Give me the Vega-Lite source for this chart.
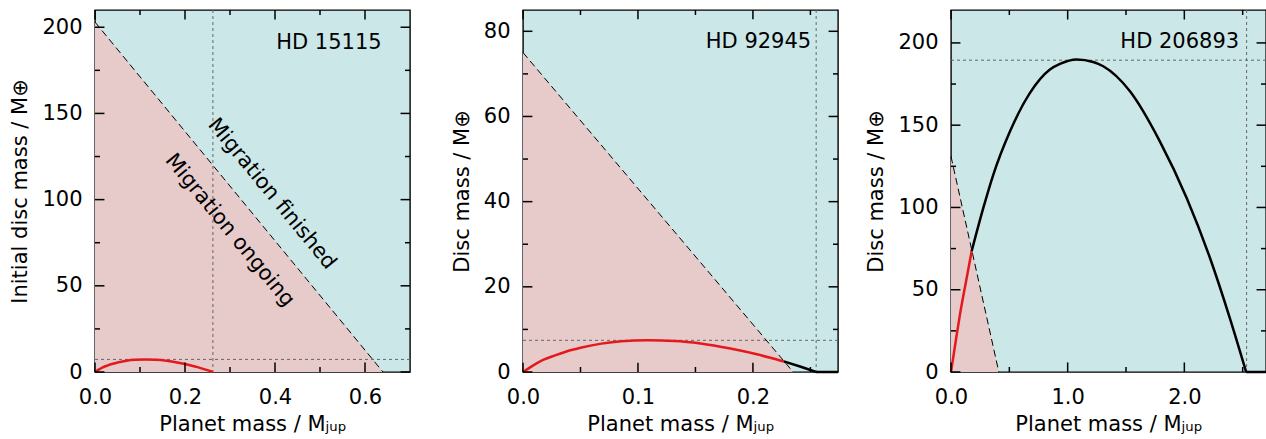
{
  "$schema": "https://vega.github.io/schema/vega-lite/v6.json",
  "padding": {"left": 9, "top": 8, "right": 0, "bottom": 0},
  "spacing": 113,
  "bounds": "flush",
  "config": {
    "font": "DejaVu Sans",
    "view": {"stroke": "black", "strokeWidth": 1.4, "fill": "#cce7e7"},
    "axis": {
      "domain": false, "grid": false, "ticks": false,
      "labelColor": "black", "titleColor": "black", "labelFontSize": 21, "titleFontSize": 21,
      "titleFontWeight": "normal", "labelFont": "DejaVu Sans", "titleFont": "DejaVu Sans",
      "labelFlush": false, "labelOverlap": false
    },
    "text": {"font": "DejaVu Sans", "fontSize": 21, "color": "black"}
  },
  "datasets": {
    "p1xM": [{"v": 0}, {"v": 0.2}, {"v": 0.4}, {"v": 0.6}],
    "p1xm": [{"v": 0.1}, {"v": 0.3}, {"v": 0.5}],
    "p1yM": [{"v": 0}, {"v": 50}, {"v": 100}, {"v": 150}, {"v": 200}],
    "p1ym": [{"v": 25}, {"v": 75}, {"v": 125}, {"v": 175}],
    "p2xM": [{"v": 0}, {"v": 0.1}, {"v": 0.2}],
    "p2xm": [{"v": 0.05}, {"v": 0.15}, {"v": 0.25}],
    "p2yM": [{"v": 0}, {"v": 20}, {"v": 40}, {"v": 60}, {"v": 80}],
    "p2ym": [{"v": 10}, {"v": 30}, {"v": 50}, {"v": 70}],
    "p3xM": [{"v": 0}, {"v": 1}, {"v": 2}],
    "p3xm": [{"v": 0.5}, {"v": 1.5}, {"v": 2.5}],
    "p3yM": [{"v": 0}, {"v": 50}, {"v": 100}, {"v": 150}, {"v": 200}],
    "p3ym": [{"v": 25}, {"v": 75}, {"v": 125}, {"v": 175}]
  },
  "hconcat": [
    {
      "width": 315, "height": 362,
      "layer": [
        {
          "data": {"values": [{"m": 0, "d": 203}, {"m": 0.64, "d": 0}]},
          "mark": {"type": "area", "color": "#e7cbcb"},
          "encoding": {
            "x": {"field": "m", "type": "quantitative", "scale": {"domain": [0, 0.7], "nice": false},
              "axis": {"orient": "bottom", "values": [0, 0.2, 0.4, 0.6], "format": ".1f", "labelPadding": 14, "title": "Planet mass / Mⱼᵤₚ", "titlePadding": 6}},
            "y": {"field": "d", "type": "quantitative", "scale": {"domain": [0, 210], "nice": false},
              "axis": {"orient": "left", "values": [0, 50, 100, 150, 200], "labelPadding": 13, "title": "Initial disc mass / M⊕", "titlePadding": 11}}
          }
        },
        {
          "data": {"values": [{"m": 0.262}]},
          "mark": {"type": "rule", "color": "#666666", "strokeDash": [3, 3], "strokeWidth": 1},
          "encoding": {"x": {"field": "m", "type": "quantitative"}}
        },
        {
          "data": {"values": [{"d": 7.3}]},
          "mark": {"type": "rule", "color": "#666666", "strokeDash": [3, 3], "strokeWidth": 1},
          "encoding": {"y": {"field": "d", "type": "quantitative"}}
        },
        {
          "data": {"values": [{"m": 0, "d": 203}, {"m": 0.64, "d": 0}]},
          "mark": {"type": "line", "color": "black", "strokeWidth": 1, "strokeDash": [7, 4]},
          "encoding": {"x": {"field": "m", "type": "quantitative"}, "y": {"field": "d", "type": "quantitative"}}
        },
        {
          "data": {"values": [
            {"m": 0, "d": 0}, {"m": 0.0092, "d": 1.52}, {"m": 0.0183, "d": 2.83}, {"m": 0.0287, "d": 3.84},
            {"m": 0.0376, "d": 4.62}, {"m": 0.0524, "d": 5.64}, {"m": 0.0701, "d": 6.53}, {"m": 0.0878, "d": 7.08},
            {"m": 0.1115, "d": 7.3}, {"m": 0.1352, "d": 7.15}, {"m": 0.1588, "d": 6.57}, {"m": 0.1854, "d": 5.4},
            {"m": 0.2091, "d": 4.07}, {"m": 0.2298, "d": 2.67}, {"m": 0.2476, "d": 1.26}, {"m": 0.262, "d": 0}
          ]},
          "mark": {"type": "line", "color": "#e4191c", "strokeWidth": 2.5, "interpolate": "monotone"},
          "encoding": {"x": {"field": "m", "type": "quantitative"}, "y": {"field": "d", "type": "quantitative"}}
        },
        {
          "data": {"values": [{"m": 0.637, "d": 187.1, "label": "HD 15115"}]},
          "mark": {"type": "text", "align": "right", "baseline": "alphabetic"},
          "encoding": {"x": {"field": "m", "type": "quantitative"}, "y": {"field": "d", "type": "quantitative"}, "text": {"field": "label"}}
        },
        {
          "data": {"values": [
            {"m": 0.393, "d": 103.3, "label": "Migration finished"},
            {"m": 0.299, "d": 82.2, "label": "Migration ongoing"}
          ]},
          "mark": {"type": "text", "align": "center", "baseline": "middle", "angle": 50.6},
          "encoding": {"x": {"field": "m", "type": "quantitative"}, "y": {"field": "d", "type": "quantitative"}, "text": {"field": "label"}}
        },
        {"data": {"name": "p1xM"}, "mark": {"type": "rule", "color": "#000000", "strokeWidth": 1.5}, "encoding": {"x": {"field": "v", "type": "quantitative"}, "y": {"datum": 0, "type": "quantitative"}, "y2": {"datum": 5.5}}},
        {"data": {"name": "p1xM"}, "mark": {"type": "rule", "color": "#000000", "strokeWidth": 1.5}, "encoding": {"x": {"field": "v", "type": "quantitative"}, "y": {"datum": 210, "type": "quantitative"}, "y2": {"datum": 204.5}}},
        {"data": {"name": "p1xm"}, "mark": {"type": "rule", "color": "#000000", "strokeWidth": 1.5}, "encoding": {"x": {"field": "v", "type": "quantitative"}, "y": {"datum": 0, "type": "quantitative"}, "y2": {"datum": 2.9}}},
        {"data": {"name": "p1xm"}, "mark": {"type": "rule", "color": "#000000", "strokeWidth": 1.5}, "encoding": {"x": {"field": "v", "type": "quantitative"}, "y": {"datum": 210, "type": "quantitative"}, "y2": {"datum": 207.1}}},
        {"data": {"name": "p1yM"}, "mark": {"type": "rule", "color": "#000000", "strokeWidth": 1.5}, "encoding": {"y": {"field": "v", "type": "quantitative"}, "x": {"datum": 0, "type": "quantitative"}, "x2": {"datum": 0.021}}},
        {"data": {"name": "p1yM"}, "mark": {"type": "rule", "color": "#000000", "strokeWidth": 1.5}, "encoding": {"y": {"field": "v", "type": "quantitative"}, "x": {"datum": 0.7, "type": "quantitative"}, "x2": {"datum": 0.679}}},
        {"data": {"name": "p1ym"}, "mark": {"type": "rule", "color": "#000000", "strokeWidth": 1.5}, "encoding": {"y": {"field": "v", "type": "quantitative"}, "x": {"datum": 0, "type": "quantitative"}, "x2": {"datum": 0.0111}}},
        {"data": {"name": "p1ym"}, "mark": {"type": "rule", "color": "#000000", "strokeWidth": 1.5}, "encoding": {"y": {"field": "v", "type": "quantitative"}, "x": {"datum": 0.7, "type": "quantitative"}, "x2": {"datum": 0.6889}}}
      ]
    },
    {
      "width": 315, "height": 362,
      "layer": [
        {
          "data": {"values": [{"m": 0, "d": 75}, {"m": 0.235, "d": 0}]},
          "mark": {"type": "area", "color": "#e7cbcb"},
          "encoding": {
            "x": {"field": "m", "type": "quantitative", "scale": {"domain": [0, 0.274], "nice": false},
              "axis": {"orient": "bottom", "values": [0, 0.1, 0.2], "format": ".1f", "labelPadding": 14, "title": "Planet mass / Mⱼᵤₚ", "titlePadding": 6}},
            "y": {"field": "d", "type": "quantitative", "scale": {"domain": [0, 85], "nice": false},
              "axis": {"orient": "left", "values": [0, 20, 40, 60, 80], "labelPadding": 13, "title": "Disc mass / M⊕", "titlePadding": 11}}
          }
        },
        {
          "data": {"values": [{"m": 0.255}]},
          "mark": {"type": "rule", "color": "#666666", "strokeDash": [3, 3], "strokeWidth": 1},
          "encoding": {"x": {"field": "m", "type": "quantitative"}}
        },
        {
          "data": {"values": [{"d": 7.44}]},
          "mark": {"type": "rule", "color": "#666666", "strokeDash": [3, 3], "strokeWidth": 1},
          "encoding": {"y": {"field": "d", "type": "quantitative"}}
        },
        {
          "data": {"values": [{"m": 0, "d": 75}, {"m": 0.235, "d": 0}]},
          "mark": {"type": "line", "color": "black", "strokeWidth": 1, "strokeDash": [7, 4]},
          "encoding": {"x": {"field": "m", "type": "quantitative"}, "y": {"field": "d", "type": "quantitative"}}
        },
        {
          "data": {"values": [
            {"m": 0, "d": 0}, {"m": 0.0089, "d": 1.55}, {"m": 0.0179, "d": 2.88}, {"m": 0.0279, "d": 3.91},
            {"m": 0.0366, "d": 4.71}, {"m": 0.051, "d": 5.74}, {"m": 0.0682, "d": 6.66}, {"m": 0.0854, "d": 7.22},
            {"m": 0.1086, "d": 7.44}, {"m": 0.1316, "d": 7.29}, {"m": 0.1545, "d": 6.7}, {"m": 0.1804, "d": 5.51},
            {"m": 0.2035, "d": 4.15}, {"m": 0.2236, "d": 2.72}, {"m": 0.2268, "d": 2.5}
          ]},
          "mark": {"type": "line", "color": "#e4191c", "strokeWidth": 2.5, "interpolate": "monotone"},
          "encoding": {"x": {"field": "m", "type": "quantitative"}, "y": {"field": "d", "type": "quantitative"}}
        },
        {
          "data": {"values": [{"m": 0.2268, "d": 2.5}, {"m": 0.241, "d": 1.29}, {"m": 0.255, "d": 0}, {"m": 0.274, "d": 0}]},
          "mark": {"type": "line", "color": "black", "strokeWidth": 2.5},
          "encoding": {"x": {"field": "m", "type": "quantitative"}, "y": {"field": "d", "type": "quantitative"}}
        },
        {
          "data": {"values": [{"m": 0.2507, "d": 76.1, "label": "HD 92945"}]},
          "mark": {"type": "text", "align": "right", "baseline": "alphabetic"},
          "encoding": {"x": {"field": "m", "type": "quantitative"}, "y": {"field": "d", "type": "quantitative"}, "text": {"field": "label"}}
        },
        {"data": {"name": "p2xM"}, "mark": {"type": "rule", "color": "#000000", "strokeWidth": 1.5}, "encoding": {"x": {"field": "v", "type": "quantitative"}, "y": {"datum": 0, "type": "quantitative"}, "y2": {"datum": 2.2}}},
        {"data": {"name": "p2xM"}, "mark": {"type": "rule", "color": "#000000", "strokeWidth": 1.5}, "encoding": {"x": {"field": "v", "type": "quantitative"}, "y": {"datum": 85, "type": "quantitative"}, "y2": {"datum": 82.8}}},
        {"data": {"name": "p2xm"}, "mark": {"type": "rule", "color": "#000000", "strokeWidth": 1.5}, "encoding": {"x": {"field": "v", "type": "quantitative"}, "y": {"datum": 0, "type": "quantitative"}, "y2": {"datum": 1.17}}},
        {"data": {"name": "p2xm"}, "mark": {"type": "rule", "color": "#000000", "strokeWidth": 1.5}, "encoding": {"x": {"field": "v", "type": "quantitative"}, "y": {"datum": 85, "type": "quantitative"}, "y2": {"datum": 83.83}}},
        {"data": {"name": "p2yM"}, "mark": {"type": "rule", "color": "#000000", "strokeWidth": 1.5}, "encoding": {"y": {"field": "v", "type": "quantitative"}, "x": {"datum": 0, "type": "quantitative"}, "x2": {"datum": 0.0082}}},
        {"data": {"name": "p2yM"}, "mark": {"type": "rule", "color": "#000000", "strokeWidth": 1.5}, "encoding": {"y": {"field": "v", "type": "quantitative"}, "x": {"datum": 0.274, "type": "quantitative"}, "x2": {"datum": 0.2658}}},
        {"data": {"name": "p2ym"}, "mark": {"type": "rule", "color": "#000000", "strokeWidth": 1.5}, "encoding": {"y": {"field": "v", "type": "quantitative"}, "x": {"datum": 0, "type": "quantitative"}, "x2": {"datum": 0.00435}}},
        {"data": {"name": "p2ym"}, "mark": {"type": "rule", "color": "#000000", "strokeWidth": 1.5}, "encoding": {"y": {"field": "v", "type": "quantitative"}, "x": {"datum": 0.274, "type": "quantitative"}, "x2": {"datum": 0.26965}}}
      ]
    },
    {
      "width": 315, "height": 362,
      "layer": [
        {
          "data": {"values": [{"m": 0, "d": 131}, {"m": 0.41, "d": 0}]},
          "mark": {"type": "area", "color": "#e7cbcb"},
          "encoding": {
            "x": {"field": "m", "type": "quantitative", "scale": {"domain": [0, 2.7], "nice": false},
              "axis": {"orient": "bottom", "values": [0, 1, 2], "format": ".1f", "labelPadding": 14, "title": "Planet mass / Mⱼᵤₚ", "titlePadding": 6}},
            "y": {"field": "d", "type": "quantitative", "scale": {"domain": [0, 220], "nice": false},
              "axis": {"orient": "left", "values": [0, 50, 100, 150, 200], "labelPadding": 13, "title": "Disc mass / M⊕", "titlePadding": 11}}
          }
        },
        {
          "data": {"values": [{"m": 2.534}]},
          "mark": {"type": "rule", "color": "#666666", "strokeDash": [3, 3], "strokeWidth": 1},
          "encoding": {"x": {"field": "m", "type": "quantitative"}}
        },
        {
          "data": {"values": [{"d": 189.5}]},
          "mark": {"type": "rule", "color": "#666666", "strokeDash": [3, 3], "strokeWidth": 1},
          "encoding": {"y": {"field": "d", "type": "quantitative"}}
        },
        {
          "data": {"values": [{"m": 0, "d": 131}, {"m": 0.41, "d": 0}]},
          "mark": {"type": "line", "color": "black", "strokeWidth": 1, "strokeDash": [7, 4]},
          "encoding": {"x": {"field": "m", "type": "quantitative"}, "y": {"field": "d", "type": "quantitative"}}
        },
        {
          "data": {"values": [{"m": 0, "d": 0}, {"m": 0.04, "d": 18.5}, {"m": 0.077, "d": 35}, {"m": 0.13, "d": 55.5}, {"m": 0.177, "d": 73.4}]},
          "mark": {"type": "line", "color": "#e4191c", "strokeWidth": 2.5, "interpolate": "monotone"},
          "encoding": {"x": {"field": "m", "type": "quantitative"}, "y": {"field": "d", "type": "quantitative"}}
        },
        {
          "data": {"values": [
            {"m": 0.177, "d": 73.4}, {"m": 0.277, "d": 99.7}, {"m": 0.363, "d": 120}, {"m": 0.506, "d": 146.3},
            {"m": 0.677, "d": 169.6}, {"m": 0.848, "d": 183.8}, {"m": 0.934, "d": 187.2}, {"m": 1.077, "d": 189.9},
            {"m": 1.219, "d": 188.4}, {"m": 1.305, "d": 185.8}, {"m": 1.534, "d": 170.6}, {"m": 1.79, "d": 140.2},
            {"m": 2.02, "d": 105.8}, {"m": 2.22, "d": 69.3}, {"m": 2.39, "d": 32.8}, {"m": 2.53, "d": 0}
          ]},
          "mark": {"type": "line", "color": "black", "strokeWidth": 2.5, "interpolate": "monotone"},
          "encoding": {"x": {"field": "m", "type": "quantitative"}, "y": {"field": "d", "type": "quantitative"}}
        },
        {
          "data": {"values": [{"m": 2.53, "d": 0}, {"m": 2.7, "d": 0}]},
          "mark": {"type": "line", "color": "black", "strokeWidth": 2.5},
          "encoding": {"x": {"field": "m", "type": "quantitative"}, "y": {"field": "d", "type": "quantitative"}}
        },
        {
          "data": {"values": [{"m": 2.47, "d": 197, "label": "HD 206893"}]},
          "mark": {"type": "text", "align": "right", "baseline": "alphabetic"},
          "encoding": {"x": {"field": "m", "type": "quantitative"}, "y": {"field": "d", "type": "quantitative"}, "text": {"field": "label"}}
        },
        {"data": {"name": "p3xM"}, "mark": {"type": "rule", "color": "#000000", "strokeWidth": 1.5}, "encoding": {"x": {"field": "v", "type": "quantitative"}, "y": {"datum": 0, "type": "quantitative"}, "y2": {"datum": 5.8}}},
        {"data": {"name": "p3xM"}, "mark": {"type": "rule", "color": "#000000", "strokeWidth": 1.5}, "encoding": {"x": {"field": "v", "type": "quantitative"}, "y": {"datum": 220, "type": "quantitative"}, "y2": {"datum": 214.2}}},
        {"data": {"name": "p3xm"}, "mark": {"type": "rule", "color": "#000000", "strokeWidth": 1.5}, "encoding": {"x": {"field": "v", "type": "quantitative"}, "y": {"datum": 0, "type": "quantitative"}, "y2": {"datum": 3.04}}},
        {"data": {"name": "p3xm"}, "mark": {"type": "rule", "color": "#000000", "strokeWidth": 1.5}, "encoding": {"x": {"field": "v", "type": "quantitative"}, "y": {"datum": 220, "type": "quantitative"}, "y2": {"datum": 216.96}}},
        {"data": {"name": "p3yM"}, "mark": {"type": "rule", "color": "#000000", "strokeWidth": 1.5}, "encoding": {"y": {"field": "v", "type": "quantitative"}, "x": {"datum": 0, "type": "quantitative"}, "x2": {"datum": 0.081}}},
        {"data": {"name": "p3yM"}, "mark": {"type": "rule", "color": "#000000", "strokeWidth": 1.5}, "encoding": {"y": {"field": "v", "type": "quantitative"}, "x": {"datum": 2.7, "type": "quantitative"}, "x2": {"datum": 2.619}}},
        {"data": {"name": "p3ym"}, "mark": {"type": "rule", "color": "#000000", "strokeWidth": 1.5}, "encoding": {"y": {"field": "v", "type": "quantitative"}, "x": {"datum": 0, "type": "quantitative"}, "x2": {"datum": 0.0428}}},
        {"data": {"name": "p3ym"}, "mark": {"type": "rule", "color": "#000000", "strokeWidth": 1.5}, "encoding": {"y": {"field": "v", "type": "quantitative"}, "x": {"datum": 2.7, "type": "quantitative"}, "x2": {"datum": 2.6572}}}
      ]
    }
  ]
}
